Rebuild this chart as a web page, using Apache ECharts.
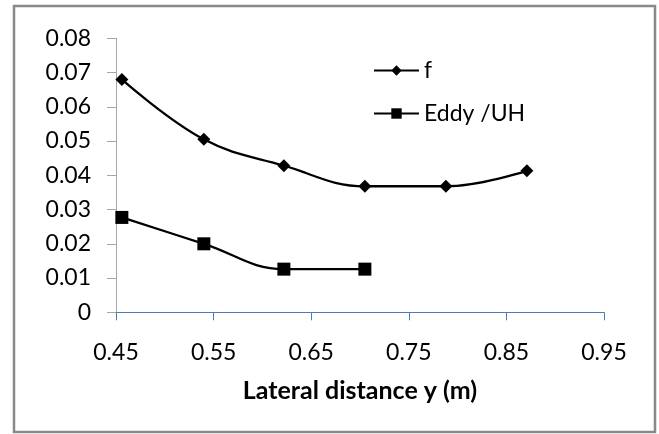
<!DOCTYPE html>
<html>
<head>
<meta charset="utf-8">
<script src="https://cdn.jsdelivr.net/npm/echarts@6/dist/echarts.min.js"></script>
<style>
html,body{margin:0;padding:0;background:#fff;}
#chart{width:659px;height:434px;}
</style>
</head>
<body>
<div id="chart"></div>
<script>
// Data
var fX = [0.456, 0.540, 0.622, 0.705, 0.788, 0.871];
var fVals = [0.0680, 0.0505, 0.0428, 0.0368, 0.0368, 0.0413];
var eddyX = [0.456, 0.540, 0.622, 0.705];
var eddyVals = [0.0277, 0.0200, 0.0126, 0.0126];
var xTicks = [0.45, 0.55, 0.65, 0.75, 0.85, 0.95];
var yTicks = [0, 0.01, 0.02, 0.03, 0.04, 0.05, 0.06, 0.07, 0.08];
var seriesNames = ['f', 'Eddy /UH'];
var xTitle = 'Lateral distance y (m)';

function pairs(xs, ys) { return xs.map(function (x, i) { return [x, ys[i]]; }); }

var FONT = 'Lato, "Open Sans", sans-serif';
var chart = echarts.init(document.getElementById('chart'), null, { renderer: 'canvas' });
chart.setOption({
  animation: false,
  backgroundColor: '#ffffff',
  graphic: [{
    type: 'rect',
    shape: { x: 14, y: 6, width: 641, height: 426 },
    style: { fill: 'none', stroke: '#898989', lineWidth: 2.5 },
    z: 100
  }],
  grid: { left: 116, right: 55, top: 38.3, bottom: 121.7, containLabel: false },
  legend: {
    orient: 'vertical',
    left: 368,
    top: 54,
    itemWidth: 45,
    itemHeight: 13,
    itemGap: 20,
    data: seriesNames,
    textStyle: { fontFamily: FONT, fontSize: 23, color: '#000' }
  },
  xAxis: {
    type: 'value',
    min: xTicks[0],
    max: xTicks[xTicks.length - 1],
    name: xTitle,
    nameLocation: 'middle',
    nameGap: 66,
    nameTextStyle: { fontFamily: FONT, fontSize: 25, fontWeight: 'bold', color: '#000' },
    axisLine: { onZero: false, lineStyle: { color: '#4a7ebb', width: 1 } },
    axisTick: { show: true, length: 8, lineStyle: { color: '#4a7ebb' }, customValues: xTicks },
    axisLabel: { margin: 29, fontFamily: FONT, fontSize: 23, color: '#000', customValues: xTicks,
      formatter: function (v) { return v.toFixed(2); } },
    splitLine: { show: false }
  },
  yAxis: {
    type: 'value',
    min: 0,
    max: 0.08,
    interval: 0.01,
    axisLine: { show: true, lineStyle: { color: '#a6a6a6', width: 1 } },
    axisTick: { show: true, length: 9, lineStyle: { color: '#a6a6a6' } },
    axisLabel: { margin: 25, fontFamily: FONT, fontSize: 23, color: '#000',
      formatter: function (v) { return v === 0 ? '0' : v.toFixed(2); } },
    splitLine: { show: false }
  },
  series: [{
    name: seriesNames[0],
    type: 'line',
    data: pairs(fX, fVals),
    smooth: 0.4,
    symbol: 'diamond',
    symbolSize: 13,
    itemStyle: { color: '#000' },
    lineStyle: { color: '#000', width: 2.3 }
  }, {
    name: seriesNames[1],
    type: 'line',
    data: pairs(eddyX, eddyVals),
    smooth: 0.4,
    symbol: 'rect',
    symbolSize: 13,
    itemStyle: { color: '#000' },
    lineStyle: { color: '#000', width: 2.3 }
  }]
});
</script>
</body>
</html>
